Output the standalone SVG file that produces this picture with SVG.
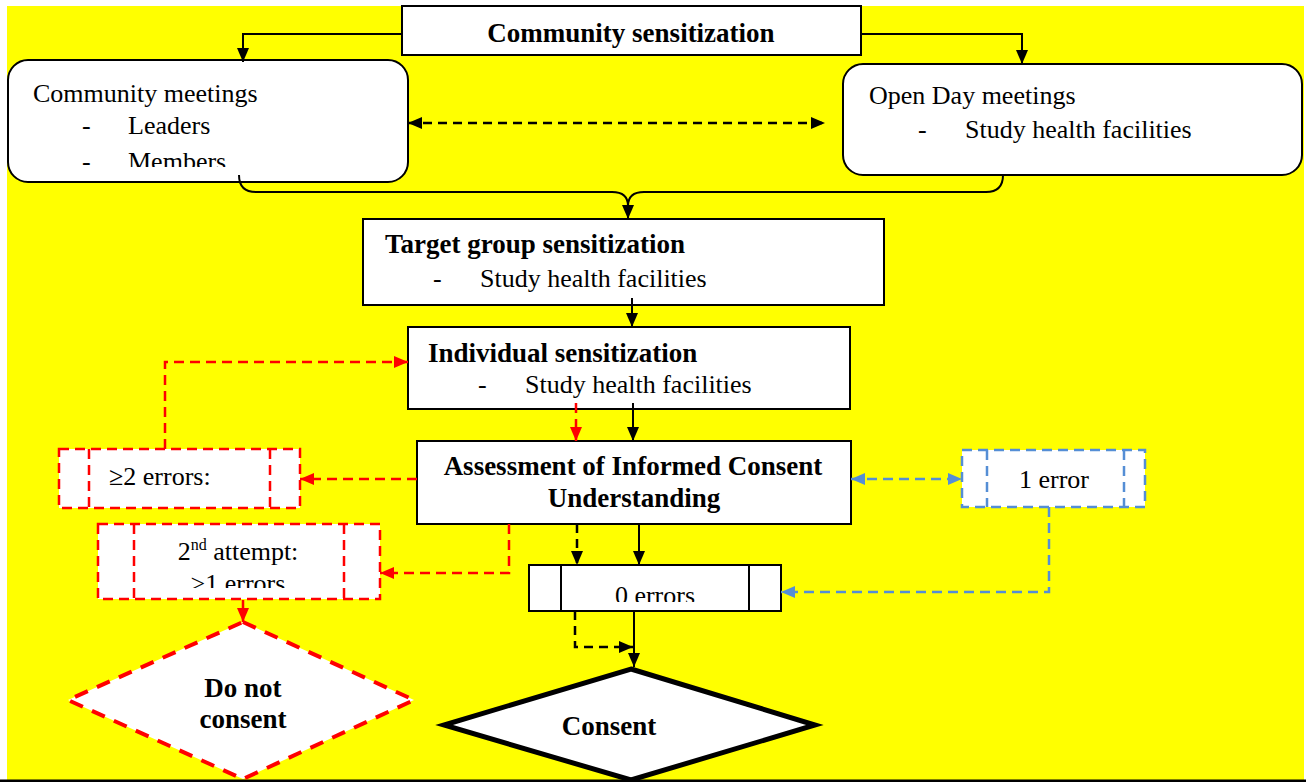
<svg xmlns="http://www.w3.org/2000/svg" width="1306" height="782" viewBox="0 0 1306 782">
<style>
.t{font-family:"Liberation Serif","Times New Roman",serif;font-size:26px;fill:#000}
.b{font-family:"Liberation Serif","Times New Roman",serif;font-size:27px;font-weight:bold;fill:#000}
.box{fill:#fff;stroke:#000;stroke-width:2}
.rbox{fill:#fff;stroke:#ff0000;stroke-width:2.5;stroke-dasharray:10 6}
.rline{fill:none;stroke:#ff0000;stroke-width:2.5;stroke-dasharray:10 6}
.bbox{fill:#fff;stroke:#558ed5;stroke-width:2.5;stroke-dasharray:10 6}
.bline{fill:none;stroke:#558ed5;stroke-width:2.5;stroke-dasharray:10 6}
.k{fill:none;stroke:#000;stroke-width:2}
.red{fill:none;stroke:#ff0000;stroke-width:2.5;stroke-dasharray:10 6;marker-end:url(#ar)}
.blue{fill:none;stroke:#558ed5;stroke-width:2.5;stroke-dasharray:10 6;marker-end:url(#ab)}
.blk{fill:none;stroke:#000;stroke-width:2;marker-end:url(#ak)}
.blkd{fill:none;stroke:#000;stroke-width:2.5;stroke-dasharray:9 6;marker-end:url(#ak)}
</style>
<defs>
<marker id="ak" viewBox="0 0 14 12" refX="14" refY="6" markerWidth="14" markerHeight="12" markerUnits="userSpaceOnUse" orient="auto-start-reverse"><path d="M0,0 L14,6 L0,12 z" fill="#000"/></marker>
<marker id="ar" viewBox="0 0 14 12" refX="14" refY="6" markerWidth="14" markerHeight="12" markerUnits="userSpaceOnUse" orient="auto-start-reverse"><path d="M0,0 L14,6 L0,12 z" fill="#ff0000"/></marker>
<marker id="ab" viewBox="0 0 14 12" refX="14" refY="6" markerWidth="14" markerHeight="12" markerUnits="userSpaceOnUse" orient="auto-start-reverse"><path d="M0,0 L14,6 L0,12 z" fill="#558ed5"/></marker>
<clipPath id="cMembers"><rect x="0" y="0" width="420" height="167"/></clipPath>
<clipPath id="cGt1"><rect x="0" y="0" width="420" height="588"/></clipPath>
<clipPath id="c0err"><rect x="520" y="0" width="300" height="602"/></clipPath>
</defs>
<rect x="0" y="0" width="1306" height="782" fill="#fff"/>
<rect x="7" y="6" width="1297" height="774" fill="#ffff00"/>
<rect x="0" y="779.5" width="1306" height="2.5" fill="#000"/>

<g id="community-sensitization">
<rect class="box" x="402" y="6" width="459" height="49"/>
<text class="b" x="631" y="42" text-anchor="middle">Community sensitization</text>
</g>

<g id="community-meetings">
<rect class="box" x="8" y="60" width="400" height="122" rx="20" ry="20"/>
<text class="t" x="33" y="102">Community meetings</text>
<text class="t" x="82" y="134">-</text>
<text class="t" x="128" y="134">Leaders</text>
<g clip-path="url(#cMembers)">
<text class="t" x="82" y="170">-</text>
<text class="t" x="128" y="170">Members</text>
</g>
</g>

<g id="open-day-meetings">
<rect class="box" x="843" y="64" width="459" height="111" rx="20" ry="20"/>
<text class="t" x="869" y="104">Open Day meetings</text>
<text class="t" x="918" y="138">-</text>
<text class="t" x="965" y="138">Study health facilities</text>
</g>

<g id="target-group">
<rect class="box" x="363" y="219" width="521" height="86"/>
<text class="b" x="385" y="253">Target group sensitization</text>
<text class="t" x="433" y="287">-</text>
<text class="t" x="480" y="287">Study health facilities</text>
</g>

<g id="individual">
<rect class="box" x="408" y="327" width="442" height="82"/>
<text class="b" x="428" y="362">Individual sensitization</text>
<text class="t" x="478" y="393">-</text>
<text class="t" x="525" y="393">Study health facilities</text>
</g>

<g id="assessment">
<rect class="box" x="417" y="441" width="434" height="83" stroke-width="2.5"/>
<text class="b" x="633" y="475" text-anchor="middle">Assessment of Informed Consent</text>
<text class="b" x="634" y="507" text-anchor="middle">Understanding</text>
</g>

<g id="two-errors">
<rect class="rbox" x="59" y="449" width="241" height="59"/>
<line class="rline" x1="89" y1="449" x2="89" y2="508"/>
<line class="rline" x1="270" y1="449" x2="270" y2="508"/>
<text class="t" x="109" y="485">≥2 errors:</text>
</g>

<g id="second-attempt">
<rect class="rbox" x="98" y="524" width="282" height="75"/>
<line class="rline" x1="134" y1="524" x2="134" y2="599"/>
<line class="rline" x1="344" y1="524" x2="344" y2="599"/>
<text class="t" x="238" y="560" text-anchor="middle">2<tspan font-size="16" dy="-10">nd</tspan><tspan dy="10"> attempt:</tspan></text>
<g clip-path="url(#cGt1)">
<text class="t" x="238" y="592" text-anchor="middle">&gt;1 errors</text>
</g>
</g>

<g id="one-error">
<rect class="bbox" x="962" y="450" width="183" height="57"/>
<line class="bline" x1="987" y1="450" x2="987" y2="507"/>
<line class="bline" x1="1124" y1="450" x2="1124" y2="507"/>
<text class="t" x="1054" y="488" text-anchor="middle">1 error</text>
</g>

<g id="zero-errors">
<rect class="box" x="529" y="565" width="252" height="46"/>
<line class="k" x1="561" y1="565" x2="561" y2="611"/>
<line class="k" x1="749" y1="565" x2="749" y2="611"/>
<g clip-path="url(#c0err)">
<text class="t" x="655" y="604" text-anchor="middle">0 errors</text>
</g>
</g>

<g id="do-not-consent">
<polygon points="243,622 414,700 243,779 68,700" fill="#fff" stroke="#ff0000" stroke-width="4" stroke-dasharray="14 10"/>
<text class="b" x="243" y="697" text-anchor="middle">Do not</text>
<text class="b" x="243" y="728" text-anchor="middle">consent</text>
</g>

<g id="consent">
<polygon points="631,669 815,725 631,780 444,725" fill="#fff" stroke="#000" stroke-width="5" stroke-linejoin="miter"/>
<text class="b" x="609" y="735" text-anchor="middle">Consent</text>
</g>

<g id="connectors">
<path class="blk" d="M402,34 L243,34 L243,62"/>
<path class="blk" d="M861,34 L1022,34 L1022,64"/>
<path class="blkd" d="M408,123 L825,123" marker-start="url(#ak)"/>
<path class="k" d="M239,175 Q239,192 256,192 L612,192 Q628,192 628,206"/>
<path class="blk" d="M1003,175 Q1003,192 986,192 L644,192 Q628,192 628,206 L628,219"/>
<path class="blk" d="M632,298 L632,327"/>
<path class="red" d="M576,403 L576,441"/>
<path class="blk" d="M633,403 L633,441"/>
<path class="red" d="M417,479 L300,479"/>
<path class="red" d="M165,449 L165,362 L408,362"/>
<path class="red" d="M509,524 L509,573 L380,573"/>
<path class="red" d="M243,600 L243,622"/>
<path class="blkd" d="M577,524 L577,565"/>
<path class="blk" d="M639,524 L639,565"/>
<path class="blue" d="M851,479 L962,479" marker-start="url(#ab)"/>
<path class="blue" d="M1049,507 L1049,592 L781,592"/>
<path class="blkd" d="M575,611 L575,647 L633,647"/>
<path class="blk" d="M634,611 L634,667"/>
</g>
</svg>
